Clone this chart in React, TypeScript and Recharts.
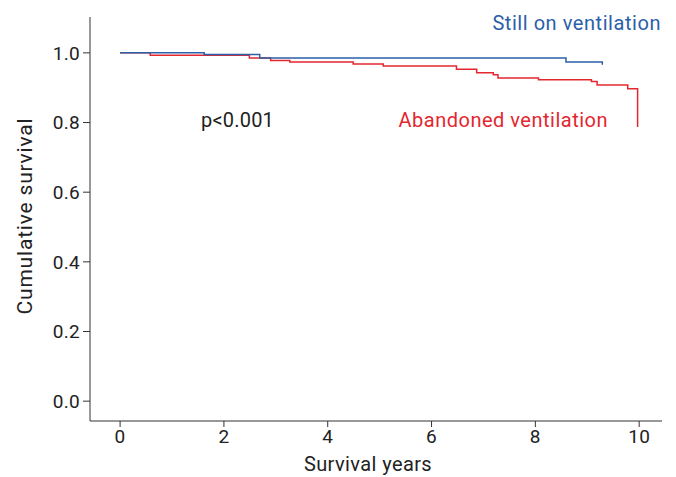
import React from 'react'
import { LineChart, Line, XAxis, YAxis } from 'recharts'

// Kaplan-Meier steps
const stillTimes = [0, 1.62, 2.69, 8.59, 9.29]
const stillSurv = [1.0, 0.995, 0.985, 0.974, 0.966]

const abandonedTimes = [0, 0.58, 2.49, 2.9, 3.27, 4.49, 5.07, 6.48, 6.87, 7.19, 7.28, 8.06, 9.08, 9.19, 9.78, 9.97]
const abandonedSurv = [1.0, 0.993, 0.985, 0.978, 0.974, 0.968, 0.962, 0.953, 0.943, 0.937, 0.928, 0.923, 0.918, 0.908, 0.897, 0.787]

const xTicks = [0, 2, 4, 6, 8, 10]
const yTicks = [0, 0.2, 0.4, 0.6, 0.8, 1.0]

const BLUE = '#2b60a8'
const RED = '#e3272f'
const AXIS = '#333333'
const FONT = 'Roboto, sans-serif'

const toRows = (times: number[], surv: number[]) =>
  times.map((t, i) => ({ t, s: surv[i] }))

const stillData = toRows(stillTimes, stillSurv)
const abandonedData = toRows(abandonedTimes, abandonedSurv)

export default function App() {
  const tick = { fontSize: 19, fill: '#222', fontFamily: FONT, letterSpacing: 0.3 }
  return (
    <div style={{ position: 'absolute', left: 0, top: 0, width: 676, height: 477, background: '#fff' }}>
      <LineChart width={676} height={477} margin={{ top: 17, right: 14, bottom: 0, left: 0 }}>
        <XAxis
          dataKey="t"
          type="number"
          domain={[-0.58, 10.44]}
          ticks={xTicks}
          allowDataOverflow
          stroke={AXIS}
          tickSize={6}
          tickMargin={3}
          height={56}
          tick={tick}
        />
        <YAxis
          type="number"
          domain={[-0.057, 1.103]}
          ticks={yTicks}
          allowDataOverflow
          stroke={AXIS}
          tickSize={7}
          tickMargin={3}
          width={90}
          tick={tick}
          tickFormatter={(v: number) => v.toFixed(1)}
        />
        {/* red first so blue sits on top where they overlap */}
        <Line
          data={abandonedData}
          dataKey="s"
          type="stepAfter"
          stroke={RED}
          strokeWidth={1.5}
          dot={false}
          activeDot={false}
          isAnimationActive={false}
        />
        <Line
          data={stillData}
          dataKey="s"
          type="stepAfter"
          stroke={BLUE}
          strokeWidth={1.5}
          dot={false}
          activeDot={false}
          isAnimationActive={false}
        />
        <text x={661} y={30} textAnchor="end" fontSize={20} letterSpacing={0.55} fill={BLUE} fontFamily={FONT}>
          Still on ventilation
        </text>
        <text x={608} y={127} textAnchor="end" fontSize={20} letterSpacing={0.5} fill={RED} fontFamily={FONT}>
          Abandoned ventilation
        </text>
        <text x={201} y={127} fontSize={20} letterSpacing={0.2} fill="#222" fontFamily={FONT}>
          p&lt;0.001
        </text>
        <text x={368} y={471} textAnchor="middle" fontSize={20} letterSpacing={0.4} fill="#222" fontFamily={FONT}>
          Survival years
        </text>
        <text
          x={32}
          y={216}
          textAnchor="middle"
          fontSize={21}
          letterSpacing={0.8}
          fill="#222"
          fontFamily={FONT}
          transform="rotate(-90 32 216)"
        >
          Cumulative survival
        </text>
      </LineChart>
    </div>
  )
}
